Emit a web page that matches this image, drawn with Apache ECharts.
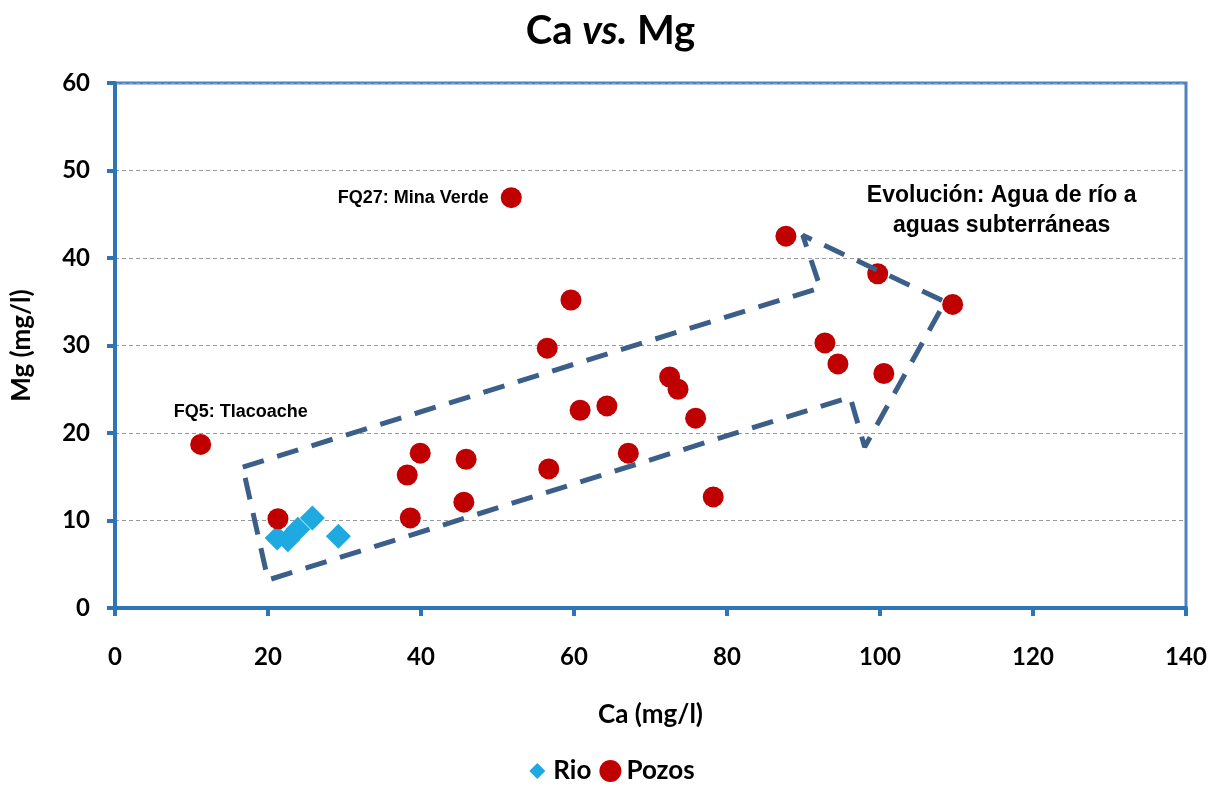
<!DOCTYPE html>
<html>
<head>
<meta charset="utf-8">
<script src="https://cdn.jsdelivr.net/npm/echarts@6/dist/echarts.min.js"></script>
<style>
  html, body { margin: 0; padding: 0; background: #fff; }
  #chart { width: 1221px; height: 791px; }
</style>
</head>
<body>
<div id="chart"></div>
<script>
// River samples: [Ca, Mg] in mg/l
const rioCa = [21.2, 22.6, 23.9, 25.8, 29.2];
const rioMg = [8.0, 7.8, 9.0, 10.3, 8.2];

// Well samples: [Ca, Mg] in mg/l
const pozosCa = [11.2, 21.3, 38.2, 39.9, 38.6, 45.9, 45.6, 51.8, 59.6, 56.5, 60.8, 64.3,
                 56.7, 67.1, 72.5, 73.6, 75.9, 78.2, 87.7, 99.7, 109.5, 92.8, 94.5, 100.5];
const pozosMg = [18.7, 10.2, 15.2, 17.7, 10.3, 17.0, 12.1, 46.9, 35.2, 29.7, 22.6, 23.1,
                 15.9, 17.7, 26.4, 25.0, 21.7, 12.7, 42.5, 38.2, 34.7, 30.3, 27.9, 26.8];

// Named wells (index into the well arrays)
const namedWells = { 7: 'FQ27: Mina Verde', 0: 'FQ5: Tlacoache' };

// Outline of the evolution arrow, in Ca / Mg units
const arrowCa = [16.7, 92.2, 89.9, 108.5, 98.0, 96.1, 20.0, 16.7];
const arrowMg = [16.1, 36.6, 42.6, 35.0, 18.4, 24.1, 3.2, 16.1];

const xTicks = [0, 20, 40, 60, 80, 100, 120, 140];
const yTicks = [0, 10, 20, 30, 40, 50, 60];

const FONT = 'Lato, "Open Sans", sans-serif';
const LBL = '"Liberation Sans", Arial, sans-serif';

const rioData = rioCa.map((c, i) => [c, rioMg[i]]);
const pozosData = pozosCa.map((c, i) => {
  const item = { value: [c, pozosMg[i]] };
  if (namedWells[i]) {
    item.label = i === 7
      ? { show: true, formatter: namedWells[i], position: 'left', distance: 12 }
      : { show: true, formatter: namedWells[i], position: 'top', distance: 5, offset: [40, -8] };
  }
  return item;
});
const arrowData = arrowCa.map((c, i) => [c, arrowMg[i]]);

const chart = echarts.init(document.getElementById('chart'));
chart.setOption({
  animation: false,
  backgroundColor: '#ffffff',
  title: {
    text: 'Ca {i|vs.} Mg',
    left: 'center',
    top: 6,
    textStyle: {
      fontFamily: FONT, fontWeight: 'bold', fontSize: 40, color: '#000',
      rich: { i: { fontFamily: FONT, fontWeight: 'bold', fontStyle: 'italic', fontSize: 40, color: '#000' } }
    }
  },
  legend: {
    bottom: 2,
    left: 'center',
    itemWidth: 22,
    itemHeight: 22,
    itemGap: 8,
    textStyle: { fontFamily: FONT, fontWeight: 'bold', fontSize: 26, color: '#000' },
    data: [
      { name: 'Rio', icon: 'path://M-11,-11M11,11M0,-8L8,0L0,8L-8,0Z' },
      { name: 'Pozos', icon: 'circle' }
    ]
  },
  grid: {
    left: 115, right: 35, top: 83, bottom: 183,
    show: true, borderColor: '#4f81bd', borderWidth: 3, backgroundColor: 'transparent'
  },
  xAxis: {
    type: 'value', min: 0, max: 140, interval: 20,
    name: 'Ca (mg/l)', nameLocation: 'middle', nameGap: 94,
    nameTextStyle: { fontFamily: FONT, fontWeight: 'bold', fontSize: 26, color: '#000' },
    axisLine: { show: true, onZero: false, lineStyle: { color: '#2e75b6', width: 4 } },
    axisTick: { show: true, length: 8, lineStyle: { color: '#2e75b6', width: 4 } },
    axisLabel: { fontFamily: FONT, fontWeight: 'bold', fontSize: 24, color: '#000', margin: 37,
                 formatter: v => xTicks.includes(v) ? String(v) : '' },
    splitLine: { show: false }
  },
  yAxis: {
    type: 'value', min: 0, max: 60, interval: 10,
    name: 'Mg (mg/l)', nameLocation: 'middle', nameGap: 80,
    nameTextStyle: { fontFamily: FONT, fontWeight: 'bold', fontSize: 26, color: '#000' },
    axisLine: { show: true, onZero: false, lineStyle: { color: '#2e75b6', width: 4 } },
    axisTick: { show: true, length: 8, lineStyle: { color: '#2e75b6', width: 4 } },
    axisLabel: { fontFamily: FONT, fontWeight: 'bold', fontSize: 24, color: '#000', margin: 25,
                 formatter: v => yTicks.includes(v) ? String(v) : '' },
    splitLine: { show: true, lineStyle: { color: '#9a9a9a', width: 1, type: [4, 3] } }
  },
  series: [
    {
      name: 'Rio', type: 'scatter', symbol: 'diamond', symbolSize: 25,
      itemStyle: { color: '#1ea9e1', opacity: 1 },
      data: rioData, z: 3
    },
    {
      name: 'Pozos', type: 'scatter', symbol: 'circle', symbolSize: 21,
      itemStyle: { color: '#c00000', opacity: 1 },
      label: { color: '#000', fontFamily: LBL, fontWeight: 'bold', fontSize: 18, letterSpacing: -0.5 },
      data: pozosData, z: 3
    },
    {
      name: 'arrow', type: 'line', showSymbol: false, silent: true,
      lineStyle: { color: '#3c5f8a', width: 5, type: [22, 14] },
      data: arrowData, z: 4
    },
    {
      name: 'note', type: 'scatter', symbolSize: 0, silent: true,
      itemStyle: { opacity: 1 },
      data: [[115.9, 45.4]],
      label: {
        show: true, position: 'inside',
        formatter: 'Evolución: Agua de río a\naguas subterráneas',
        fontFamily: LBL, fontWeight: 'bold', fontSize: 23, lineHeight: 30,
        color: '#000', align: 'center', letterSpacing: -0.5
      }
    }
  ]
});
</script>
</body>
</html>
